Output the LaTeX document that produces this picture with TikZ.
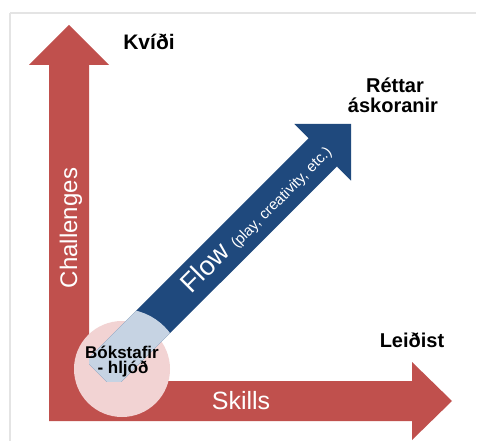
\documentclass[tikz,border=0pt]{standalone}
\usepackage{fontspec}
\setmainfont{Liberation Sans}
\definecolor{axisred}{HTML}{C0504D}
\definecolor{flowblue}{HTML}{1F497D}
\definecolor{paleblue}{HTML}{C6D3E3}
\definecolor{palepink}{HTML}{F2D3D3}
\definecolor{framegray}{HTML}{E4E4E4}
\begin{document}
\begin{tikzpicture}[x=1pt,y=-1pt,
  blk/.style={font=\bfseries\fontsize{20}{22}\selectfont, text=black, inner sep=0pt, anchor=base},
  wht/.style={text=white, inner sep=0pt},
]
\useasboundingbox (0,0) rectangle (477,441);
\fill[white] (0,0) rectangle (477,441);
% frame
\draw[framegray, line width=2.5pt] (10,13) -- (476,13);
\draw[framegray, line width=2.5pt] (10,13) -- (10,445);
% red L-shaped axes
\fill[axisred] (69,25) -- (109,65) -- (89,65) -- (89,381) -- (412,381) -- (412,362)
  -- (452,401) -- (412,440) -- (412,421) -- (49,421) -- (49,65) -- (29,65) -- cycle;
% pink circle
\fill[palepink] (122,369) circle (48);
% blue flow arrow
\begin{scope}
  \clip (89,0) rectangle (477,381);
  \fill[flowblue] (85.9,360.9) -- (308.6,138.2) -- (294.4,124) -- (351,124)
    -- (351,180.6) -- (336.9,166.4) -- (114.1,389.1) -- cycle;
  \clip (122,369) circle (60);
  \fill[paleblue] (85.9,360.9) -- (308.6,138.2) -- (336.9,166.4) -- (114.1,389.1) -- cycle;
\end{scope}
% labels
\node[blk, font=\bfseries\fontsize{21}{23}\selectfont] (kvidi) at (149,50) {Kvíði};
\node[blk] (rettar) at (395,93) {Réttar};
\node[blk] (askor) at (393,113) {áskoranir};
\node[blk] (leidist) at (412,347) {Leiðist};
\node[blk, font=\bfseries\fontsize{17}{19}\selectfont] (bok) at (122,358) {Bókstafir};
\node[blk, font=\bfseries\fontsize{17}{19}\selectfont] (hljod) at (123,373) {- hljóð};
\node[wht, anchor=base, rotate=90, font=\fontsize{24}{26}\selectfont] (chal) at (77,228) {Challenges};
\node[wht, anchor=base, font=\fontsize{25}{27}\selectfont] (skills) at (241,409) {Skills};
\node[wht, rotate=45, font=\fontsize{27}{29}\selectfont] (flow) at (256,218)
  {Flow \fontsize{15}{17}\selectfont(play, creativity, etc.)};
\end{tikzpicture}
\end{document}
